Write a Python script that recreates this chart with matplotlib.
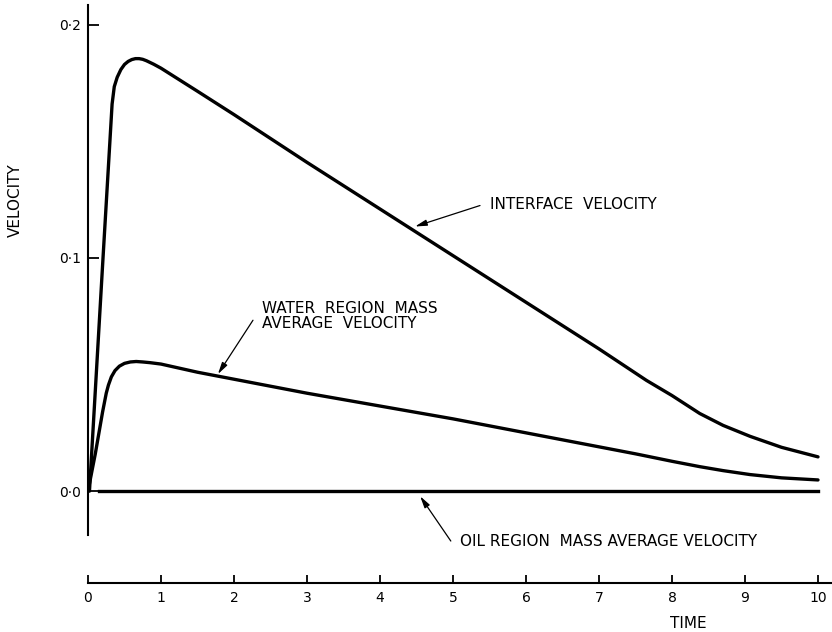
import matplotlib
matplotlib.use("Agg")
from matplotlib import pyplot as plt

plt.rcParams['font.family'] = ['Liberation Sans Narrow', 'DejaVu Sans']

# interface velocity
t_int = [0.02, 0.1, 0.2, 0.3, 0.33, 0.36, 0.4, 0.45, 0.5, 0.55, 0.6, 0.65, 0.7,
         0.75, 0.8, 0.9, 1.0, 1.5, 2.0, 3.0, 4.0, 5.0, 6.0, 7.0, 7.65, 8.0, 8.38,
         8.7, 9.07, 9.5, 10.0]
v_int = [0.0, 0.043, 0.097, 0.150, 0.166, 0.1735, 0.1775, 0.1808, 0.1830, 0.1843,
         0.1851, 0.1855, 0.1855, 0.1852, 0.1846, 0.1831, 0.1814, 0.1715, 0.1615,
         0.141, 0.121, 0.101, 0.081, 0.061, 0.0475, 0.041, 0.0333, 0.0282, 0.0235,
         0.0188, 0.0147]

# water region mass average velocity
t_wat = [0.0, 0.1, 0.2, 0.25, 0.28, 0.32, 0.37, 0.43, 0.5, 0.58, 0.66, 0.75, 0.85,
         1.0, 1.5, 2.0, 3.0, 4.0, 5.0, 6.0, 7.0, 7.5, 8.0, 8.38, 8.7, 9.07, 9.5,
         10.0]
v_wat = [0.0, 0.016, 0.034, 0.042, 0.0455, 0.0490, 0.0517, 0.0536, 0.0548, 0.0554,
         0.0556, 0.0554, 0.0551, 0.0545, 0.051, 0.048, 0.042, 0.0365, 0.031, 0.025,
         0.019, 0.016, 0.0128, 0.0105, 0.0088, 0.0071, 0.0057, 0.0048]

# oil region mass average velocity
t_oil = [0.15, 10.0]
v_oil = [0.0, 0.0]

x_ticks = list(range(0, 11))
y_ticks = [0.0, 0.1, 0.2]
y_labels = ['0\u00b70', '0\u00b71', '0\u00b72']

W, H = 832, 632
fig = plt.figure(figsize=(W / 100, H / 100), dpi=100)
ax = fig.add_axes([88 / W, (H - 583) / H, 744 / W, (583 - 5) / H])

ax.plot(t_int, v_int, color='black', lw=2.4, solid_capstyle='round',
        solid_joinstyle='round')
ax.plot(t_wat, v_wat, color='black', lw=2.4, solid_capstyle='round',
        solid_joinstyle='round')
ax.plot(t_oil, v_oil, color='black', lw=2.4)

ax.set_xlim(0, 744 / 73)
ax.set_ylim(-0.0394, 0.2085)

for s in ['top', 'right']:
    ax.spines[s].set_visible(False)
ax.spines['left'].set_bounds(-0.0188, 0.2085)
ax.spines['left'].set_linewidth(1.5)
ax.spines['bottom'].set_linewidth(1.5)

ax.set_xticks(x_ticks)
ax.set_xticklabels([str(v) for v in x_ticks], fontsize=10)
ax.set_yticks(y_ticks)
ax.set_yticklabels(y_labels, fontsize=10)
ax.tick_params(axis='x', direction='in', length=6, width=1.3, pad=6)
ax.tick_params(axis='y', direction='in', length=8, width=1.3, pad=5)

arrow = dict(arrowstyle='-|>,head_length=0.7,head_width=0.18', lw=0.9,
             color='black', shrinkA=0, shrinkB=0)
fs = 11

ax.text(5.51, 0.1229, 'INTERFACE  VELOCITY', fontsize=fs, ha='left', va='center')
ax.annotate('', xy=(4.48, 0.1135), xytext=(5.37, 0.1225), arrowprops=arrow)

ax.text(2.38, 0.0752, 'WATER  REGION  MASS\nAVERAGE  VELOCITY', fontsize=fs,
        ha='left', va='center', linespacing=1.05)
ax.annotate('', xy=(1.78, 0.0502), xytext=(2.26, 0.0733), arrowprops=arrow)

ax.text(5.10, -0.0218, 'OIL REGION  MASS AVERAGE VELOCITY', fontsize=fs,
        ha='left', va='center')
ax.annotate('', xy=(4.55, -0.0022), xytext=(4.97, -0.0214), arrowprops=arrow)

fig.text(688 / W, 1 - 623 / H, 'TIME', fontsize=fs, ha='center', va='center')
fig.text(15 / W, 1 - 200 / H, 'VELOCITY', fontsize=fs, ha='center', va='center',
         rotation=90)

fig.savefig('out.png', dpi=100)
